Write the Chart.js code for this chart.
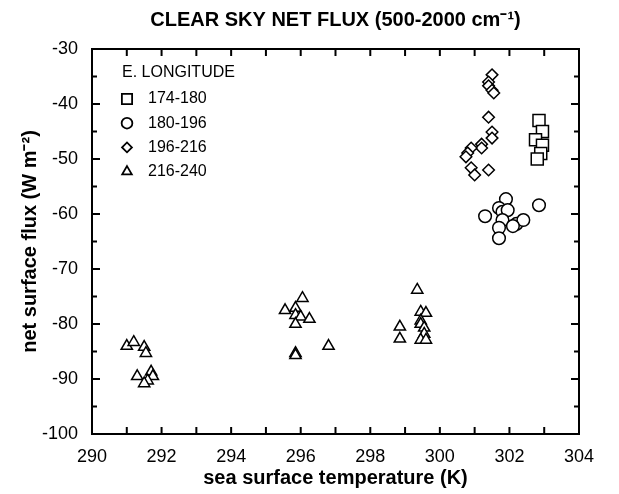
<!DOCTYPE html>
<html>
<head>
<meta charset="utf-8">
<script src="https://cdn.jsdelivr.net/npm/chart.js@4.4.0/dist/chart.umd.min.js"></script>
<style>
  body { margin: 0; background: #fff; }
</style>
</head>
<body>
<canvas id="fluxChart" width="619" height="494"></canvas>
<script>
// data
const legendTitle = "E. LONGITUDE";
const seriesLabels = ["174-180", "180-196", "196-216", "216-240"];

const sstA = [302.85, 302.95, 302.75, 302.95, 302.9, 302.8];
const fluxA = [-43, -45, -46.5, -47.5, -49, -50];

const sstB = [301.3, 301.9, 301.7, 301.8, 301.95, 301.8, 301.7, 301.7, 302.2, 302.4, 302.85, 302.1];
const fluxB = [-60.4, -57.3, -58.9, -59.6, -59.3, -61.1, -62.5, -64.4, -61.8, -61.1, -58.4, -62.2];

const sstC = [301.5, 301.4, 301.4, 301.5, 301.55, 301.4, 301.5, 301.5, 301.2, 301.2, 300.9, 300.8, 300.75, 300.9, 301.0, 301.4];
const fluxC = [-34.7, -36, -36.7, -37.5, -38, -42.4, -45.1, -46.2, -47.3, -48, -48, -48.9, -49.6, -51.6, -52.9, -52];

const sstD = [291.0, 291.2, 291.5, 291.55, 291.3, 291.7, 291.75, 291.6, 291.5,
  296.05, 295.55, 295.85, 295.85, 296.0, 295.85, 296.25, 296.8, 295.85, 295.85,
  299.35, 299.45, 299.6, 299.45, 299.45, 299.55, 299.55, 299.45, 299.6, 298.85, 298.85];
const fluxD = [-84, -83.3, -84.2, -85.3, -89.5, -88.7, -89.5, -90.3, -90.8,
  -75.3, -77.5, -77.1, -78.4, -78.7, -80, -79.1, -84, -85.3, -85.7,
  -73.8, -77.8, -78, -79.4, -80, -80.7, -81.8, -82.9, -82.9, -80.5, -82.7];

const xMin = 290, xMax = 304;
const yMin = -100, yMax = -30;

const FONT = "'Liberation Sans', Arial, Helvetica, sans-serif";

function pts(xs, ys) {
  return xs.map((x, i) => ({ x: x, y: ys[i] }));
}

function series(label, xs, ys, style, r) {
  return {
    label: label,
    data: pts(xs, ys),
    pointStyle: style,
    pointRadius: r,
    pointHoverRadius: r,
    borderColor: "#000",
    backgroundColor: "#fff",
    borderWidth: 1.5,
    showLine: false,
  };
}

// box round the plot with inward ticks on all four sides
const frameTicks = {
  id: "frameTicks",
  afterDatasetsDraw(chart) {
    const { ctx, chartArea: a, scales } = chart;
    ctx.save();
    ctx.strokeStyle = "#000";
    ctx.lineWidth = 2;
    ctx.strokeRect(a.left, a.top, a.right - a.left, a.bottom - a.top);
    ctx.beginPath();
    for (let v = xMin; v <= xMax; v++) {
      const px = scales.x.getPixelForValue(v);
      ctx.moveTo(px, a.bottom); ctx.lineTo(px, a.bottom - 7);
      ctx.moveTo(px, a.top); ctx.lineTo(px, a.top + 7);
    }
    for (let v = yMin; v <= yMax; v += 5) {
      const py = scales.y.getPixelForValue(v);
      const len = v % 10 === 0 ? 8 : 5;
      ctx.moveTo(a.left, py); ctx.lineTo(a.left + len, py);
      ctx.moveTo(a.right, py); ctx.lineTo(a.right - len, py);
    }
    ctx.stroke();
    ctx.restore();
  },
};

// legend drawn inside the plot, top left
const insideLegend = {
  id: "insideLegend",
  afterDraw(chart) {
    const ctx = chart.ctx;
    ctx.save();
    ctx.fillStyle = "#000";
    ctx.font = "16px " + FONT;
    ctx.textBaseline = "middle";
    ctx.textAlign = "left";
    ctx.fillText(legendTitle, 122, 73);
    chart.data.datasets.forEach((ds, i) => {
      const y = 99 + i * 24.2;
      ctx.strokeStyle = "#000";
      ctx.fillStyle = "#fff";
      ctx.lineWidth = 1.8;
      Chart.helpers.drawPoint(ctx, {
        pointStyle: ds.pointStyle,
        radius: ds.pointRadius * 0.85,
        rotation: 0,
        borderWidth: 1.8,
      }, 127, y);
      ctx.fillStyle = "#000";
      ctx.fillText(ds.label, 148, y);
    });
    ctx.restore();
  },
};

new Chart(document.getElementById("fluxChart"), {
  type: "scatter",
  data: {
    datasets: [
      series(seriesLabels[0], sstA, fluxA, "rect", 8.5),
      series(seriesLabels[1], sstB, fluxB, "circle", 6.3),
      series(seriesLabels[2], sstC, fluxC, "rectRot", 5.8),
      series(seriesLabels[3], sstD, fluxD, "triangle", 6.5),
    ],
  },
  options: {
    responsive: false,
    animation: false,
    layout: { padding: { left: 0, right: 40, top: 0, bottom: 0 } },
    plugins: {
      legend: { display: false },
      tooltip: { enabled: false },
      title: {
        display: true,
        fullSize: false,
        text: "CLEAR SKY NET FLUX (500-2000 cm\u207B\u00B9)",
        color: "#000",
        font: { family: FONT, size: 20, weight: "bold" },
        padding: { top: 8, bottom: 17 },
      },
    },
    scales: {
      x: {
        type: "linear",
        min: xMin,
        max: xMax,
        afterFit: (s) => { s.height = 60; },
        grid: { display: false, drawTicks: false },
        border: { display: false },
        ticks: {
          stepSize: 2,
          color: "#000",
          padding: 12,
          maxRotation: 0,
          font: { family: FONT, size: 18 },
        },
        title: {
          display: true,
          text: "sea surface temperature (K)",
          color: "#000",
          font: { family: FONT, size: 20, weight: "bold" },
          padding: { top: 0, bottom: 4 },
        },
      },
      y: {
        min: yMin,
        max: yMax,
        afterFit: (s) => { s.width = 92; },
        grid: { display: false, drawTicks: false },
        border: { display: false },
        ticks: {
          stepSize: 10,
          color: "#000",
          padding: 14,
          font: { family: FONT, size: 18 },
        },
        title: {
          display: true,
          text: "net surface flux (W m\u207B\u00B2)",
          color: "#000",
          font: { family: FONT, size: 20, weight: "bold" },
          padding: { top: 18, bottom: 0 },
        },
      },
    },
  },
  plugins: [frameTicks, insideLegend],
});
</script>
</body>
</html>
